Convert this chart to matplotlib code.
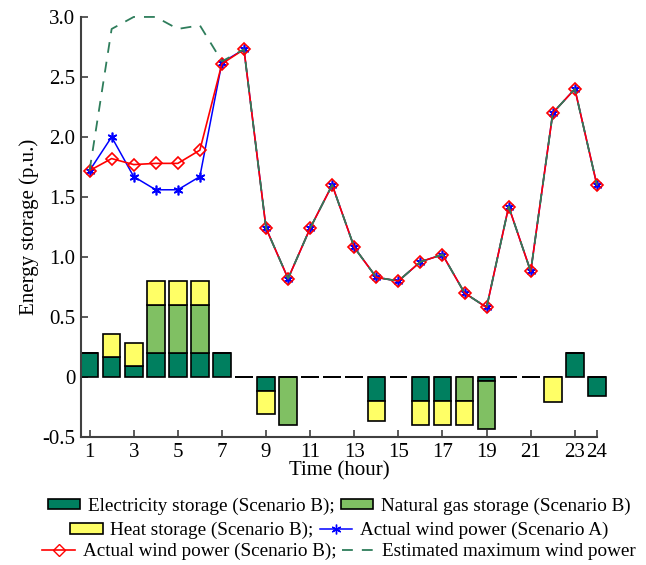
import matplotlib
matplotlib.use("Agg")
import matplotlib.pyplot as plt
from matplotlib.patches import Patch
from matplotlib.lines import Line2D

hours = list(range(1, 25))
elec = [0.2, 0.17, 0.09, 0.2, 0.2, 0.2, 0.2, 0, -0.12, 0, 0, 0, 0, -0.2, 0, -0.2, -0.2, 0, -0.03, 0, 0, 0, 0.2, -0.16]
gas = [0, 0, 0, 0.4, 0.4, 0.4, 0, 0, 0, -0.4, 0, 0, 0, 0, 0, 0, 0, -0.2, -0.4, 0, 0, 0, 0, 0]
heat = [0, 0.19, 0.19, 0.2, 0.2, 0.2, 0, 0, -0.19, 0, 0, 0, 0, -0.17, 0, -0.2, -0.2, -0.2, 0, 0, 0, -0.21, 0, 0]
windB = [1.72, 1.82, 1.77, 1.78, 1.78, 1.89, 2.61, 2.73, 1.24, 0.82, 1.24, 1.6, 1.08, 0.83, 0.8, 0.96, 1.02, 0.7, 0.58, 1.42, 0.88, 2.2, 2.4, 1.6]
windA = [1.72, 2.0, 1.67, 1.56, 1.56, 1.67, 2.62, 2.73, 1.24, 0.82, 1.24, 1.6, 1.08, 0.83, 0.8, 0.96, 1.02, 0.7, 0.58, 1.42, 0.88, 2.2, 2.4, 1.6]
windMax = [1.72, 2.9, 3.0, 3.0, 2.9, 2.93, 2.63, 2.73, 1.24, 0.82, 1.24, 1.6, 1.08, 0.83, 0.8, 0.96, 1.02, 0.7, 0.58, 1.42, 0.88, 2.2, 2.4, 1.6]
xticks = [1, 3, 5, 7, 9, 11, 13, 15, 17, 19, 21, 23, 24]
yticks = [-0.5, 0.0, 0.5, 1.0, 1.5, 2.0, 2.5, 3.0]
yticklabels = ['-0.5', '0', '0.5', '1.0', '1.5', '2.0', '2.5', '3.0']

plt.rcParams['font.family'] = ['Liberation Serif', 'DejaVu Serif']

c_elec = '#007F5F'
c_gas = '#80C063'
c_heat = '#FFFF66'
c_green = '#2E7D5B'
spine_c = '#404040'

fig = plt.figure(figsize=(6.46, 5.65), dpi=100)
ax = fig.add_axes([0.125, 0.2265, 0.799, 0.7435])

w = 0.8
pos_b = [0.0] * 24
neg_b = [0.0] * 24
for vals, col in [(elec, c_elec), (gas, c_gas), (heat, c_heat)]:
    bottoms = []
    for i, v in enumerate(vals):
        if v >= 0:
            bottoms.append(pos_b[i])
            pos_b[i] += v
        else:
            bottoms.append(neg_b[i])
            neg_b[i] += v
    bars = ax.bar(hours, vals, width=w, bottom=bottoms, color=col, edgecolor='black',
                  linewidth=1.2, zorder=2)
    for b in bars:
        b.set_clip_on(False)

ax.plot(hours, windA, color='blue', lw=1.1, marker=(6, 2, 0), markersize=7,
        markeredgewidth=1.2, zorder=3, clip_on=False)
ax.plot(hours, windB, color='red', lw=1.2, marker='D', markersize=6,
        markerfacecolor='none', markeredgecolor='red', markeredgewidth=1.2, zorder=4,
        clip_on=False)
ax.plot(hours, windMax, color=c_green, lw=1.3, dashes=(6, 5), zorder=5, clip_on=False)

ax.set_xlim(0.6, 24)
ax.set_ylim(-0.5, 3.0)
ax.set_xticks(xticks)
ax.set_xticklabels([str(t) for t in xticks])
ax.set_yticks(yticks)
ax.set_yticklabels(yticklabels)
ax.tick_params(direction='in', length=5, width=1.2, colors=spine_c, labelcolor='black',
               labelsize=15, pad=4)
for s in ['top', 'right']:
    ax.spines[s].set_visible(False)
for s in ['left', 'bottom']:
    ax.spines[s].set_color(spine_c)
    ax.spines[s].set_linewidth(1.5)

ax.set_xlabel('Time (hour)', fontsize=15, labelpad=0)
ax.set_ylabel('Energy storage (p.u.)', fontsize=15, labelpad=2)

h_elec = Patch(facecolor=c_elec, edgecolor='black', lw=1.2)
h_gas = Patch(facecolor=c_gas, edgecolor='black', lw=1.2)
h_heat = Patch(facecolor=c_heat, edgecolor='black', lw=1.2)
h_A = Line2D([], [], color='blue', lw=1.1, marker=(6, 2, 0), markersize=7)
h_B = Line2D([], [], color='red', lw=1.2, marker='D', markersize=6, markerfacecolor='none')
h_M = Line2D([], [], color=c_green, lw=1.3, dashes=(6, 5))

rows = [
    ([h_elec, h_gas], ['Electricity storage (Scenario B);', 'Natural gas storage (Scenario B)'], 0.104),
    ([h_heat, h_A], ['Heat storage (Scenario B);', 'Actual wind power (Scenario A)'], 0.061),
    ([h_B, h_M], ['Actual wind power (Scenario B);', 'Estimated maximum wind power'], 0.024),
]
for hs, ls, yc in rows:
    fig.legend(hs, ls, loc='center', bbox_to_anchor=(0.525, yc), ncol=2,
               frameon=False, fontsize=13.8, handlelength=1.7, handleheight=0.5,
               handletextpad=0.4, columnspacing=0.3, borderpad=0, borderaxespad=0)

fig.savefig('out.png', dpi=100)
